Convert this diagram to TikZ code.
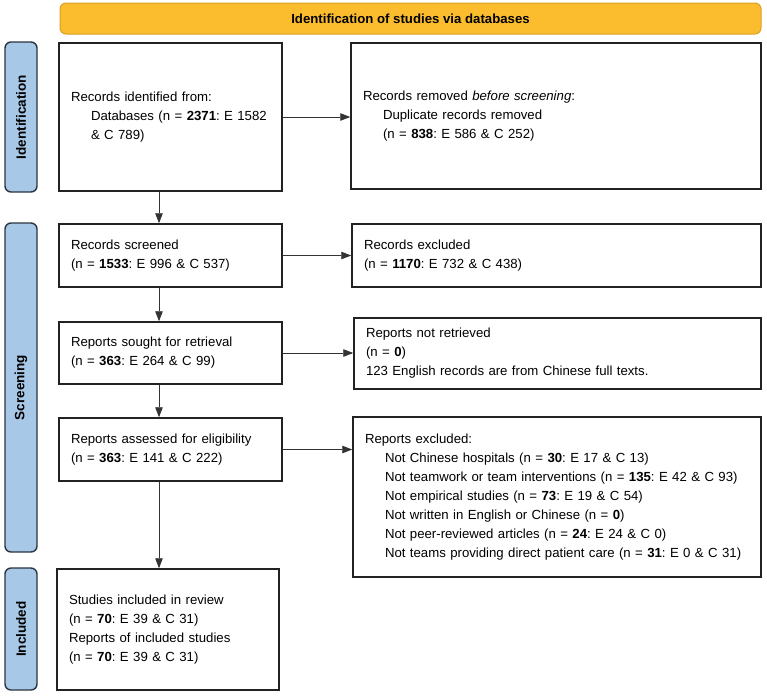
\documentclass[tikz,border=0pt]{standalone}
\usepackage{fontspec}
\setmainfont{Liberation Sans}
\usetikzlibrary{arrows.meta}
\frenchspacing
\definecolor{bannerfill}{HTML}{FBBD2D}
\definecolor{bannerdraw}{HTML}{D9A024}
\definecolor{sidefill}{HTML}{A8C8E8}
\definecolor{sidedraw}{HTML}{2B3440}
\definecolor{boxdraw}{HTML}{222222}
\definecolor{arrowcol}{HTML}{333333}
\begin{document}
\begin{tikzpicture}[x=1pt,y=-1pt,
  box/.style={draw=boxdraw, line width=1.5pt, fill=white, align=left, inner xsep=12pt, inner ysep=0pt,
    font=\fontsize{13.2}{19}\selectfont},
  side/.style={draw=sidedraw, line width=1.4pt, fill=sidefill, rounded corners=6pt, rotate=90,
    font=\bfseries\fontsize{13.5}{16}\selectfont, inner sep=0pt},
  banner/.style={draw=bannerdraw, line width=1pt, fill=bannerfill, rounded corners=6pt,
    font=\bfseries\fontsize{13.2}{16}\selectfont, inner sep=0pt},
  flow/.style={draw=arrowcol, line width=0.9pt, -{Triangle[length=10pt,width=7.5pt]}}
]
\useasboundingbox (0,0) rectangle (767,697);
% banner
\node[banner, minimum width=701, minimum height=31] (ban) at (410.5,18.5) {Identification of studies via databases};
% side labels
\node[side, minimum width=150, minimum height=32] (s1) at (21,117) {Identification};
\node[side, minimum width=329, minimum height=32] (s2) at (21,387.5) {Screening};
\node[side, minimum width=122, minimum height=32] (s3) at (21,629) {Included};
% boxes
\node[box, minimum width=223, minimum height=148, text width=199] (b1) at (170.5,117)
  {Records identified from:\\\hspace*{20pt}Databases (n = \textbf{2371}: E 1582\\\hspace*{20pt}\& C 789)};
\node[box, minimum width=410, minimum height=146, text width=386] (b2) at (556,116)
  {Records removed \textit{before screening}:\\\hspace*{20pt}Duplicate records removed\\\hspace*{20pt}(n = \textbf{838}: E 586 \& C 252)};
\node[box, minimum width=223, minimum height=63, text width=199] (b3) at (170.5,255.5)
  {Records screened\\(n = \textbf{1533}: E 996 \& C 537)};
\node[box, minimum width=409, minimum height=63, text width=385] (b4) at (556.5,255.5)
  {Records excluded\\(n = \textbf{1170}: E 732 \& C 438)};
\node[box, minimum width=223, minimum height=62, text width=199] (b5) at (170.5,353)
  {Reports sought for retrieval\\(n = \textbf{363}: E 264 \& C 99)};
\node[box, minimum width=407, minimum height=71, text width=383] (b6) at (557.5,353.5)
  {Reports not retrieved\\(n = \textbf{0})\\123 English records are from Chinese full texts.};
\node[box, minimum width=223, minimum height=63, text width=199] (b7) at (170.5,449.5)
  {Reports assessed for eligibility\\(n = \textbf{363}: E 141 \& C 222)};
\node[box, minimum width=408, minimum height=160, text width=384] (b8) at (557,497)
  {Reports excluded:\\
   \hspace*{20pt}Not Chinese hospitals (n = \textbf{30}: E 17 \& C 13)\\
   \hspace*{20pt}Not teamwork or team interventions (n = \textbf{135}: E 42 \& C 93)\\
   \hspace*{20pt}Not empirical studies (n = \textbf{73}: E 19 \& C 54)\\
   \hspace*{20pt}Not written in English or Chinese (n = \textbf{0})\\
   \hspace*{20pt}Not peer-reviewed articles (n = \textbf{24}: E 24 \& C 0)\\
   \hspace*{20pt}Not teams providing direct patient care (n = \textbf{31}: E 0 \& C 31)};
\node[box, minimum width=222, minimum height=121, text width=198] (b9) at (168,629.5)
  {Studies included in review\\(n = \textbf{70}: E 39 \& C 31)\\Reports of included studies\\(n = \textbf{70}: E 39 \& C 31)};
% connectors
\coordinate (col) at (159,0);
\draw[flow] (b1.south -| col) -- (b3.north -| col);
\draw[flow] (b3.south -| col) -- (b5.north -| col);
\draw[flow] (b5.south -| col) -- (b7.north -| col);
\draw[flow] (b7.south -| col) -- (b9.north -| col);
\draw[flow] (b1.east) -- (b1.east -| b2.west);
\draw[flow] (b3.east) -- (b3.east -| b4.west);
\draw[flow] (b5.east) -- (b5.east -| b6.west);
\draw[flow] (b7.east) -- (b7.east -| b8.west);
\end{tikzpicture}
\end{document}
